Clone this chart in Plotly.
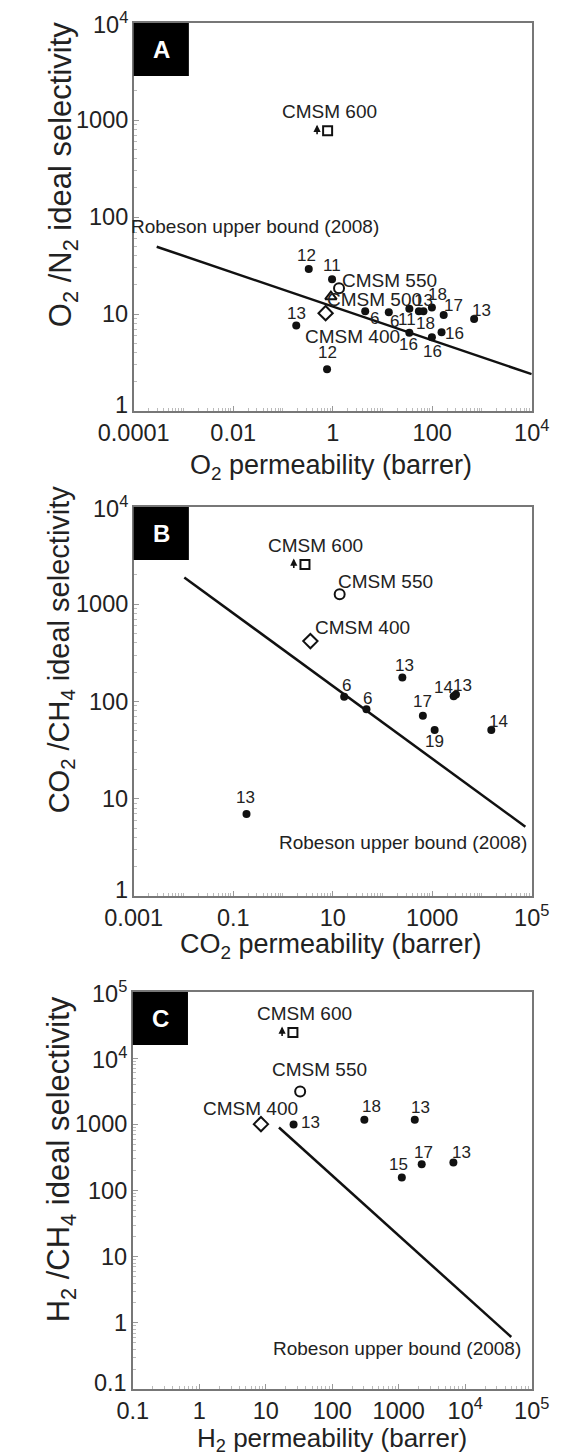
import math
import plotly.graph_objects as go

FONT = "Arial, Liberation Sans, sans-serif"

# ---------------- Panel A : O2/N2 ----------------
a_dot_x = [0.33, 0.97, 0.185, 0.77, 4.5, 13.4, 34.7, 54, 66.7, 98.6, 170, 695, 34.7, 98.6, 154]
a_dot_y = [29.1, 22.8, 7.6, 2.69, 10.7, 10.4, 11.3, 10.7, 10.7, 11.7, 9.77, 8.88, 6.4, 5.75, 6.5]
a_dot_ref = ["12", "11", "13", "12", "6", "6", "11", "13", "18", "18", "17", "13", "16", "16", "16"]
a_cmsm_name = ["CMSM 600", "CMSM 550", "CMSM 500", "CMSM 400"]
a_cmsm_x = [0.79, 1.34, 0.92, 0.72]
a_cmsm_y = [776, 18.4, 15.1, 10.2]
a_arrow_x = 0.485
a_rob_x = [2.9e-4, 1e4]
a_rob_y = [49.4, 2.4]

# ---------------- Panel B : CO2/CH4 ----------------
b_dot_x = [251, 17, 47.7, 649, 1120, 2700, 3000, 15400, 0.185]
b_dot_y = [177, 112, 83, 71.3, 50.8, 113, 118, 50.8, 6.96]
b_dot_ref = ["13", "6", "6", "17", "19", "14", "13", "14", "13"]
b_cmsm_name = ["CMSM 600", "CMSM 550", "CMSM 400"]
b_cmsm_x = [2.77, 13.8, 3.56]
b_cmsm_y = [2565, 1270, 418]
b_arrow_x = 1.65
b_rob_x = [0.0104, 74600]
b_rob_y = [1888, 5.15]

# ---------------- Panel C : H2/CH4 ----------------
c_dot_x = [26.2, 304, 1742, 1112, 2215, 6637]
c_dot_y = [990, 1170, 1170, 157, 250, 265]
c_dot_ref = ["13", "18", "13", "15", "17", "13"]
c_cmsm_name = ["CMSM 600", "CMSM 550", "CMSM 400"]
c_cmsm_x = [25.6, 32.9, 8.47]
c_cmsm_y = [24400, 3127, 1007]
c_arrow_x = 17.6
c_rob_x = [15.8, 49200]
c_rob_y = [895, 0.61]

# tick labels
a_xtickvals = [1e-4, 1e-2, 1, 100, 1e4]
a_xticktext = ["0.0001", "0.01", "1", "100", "10<sup>4</sup>"]
a_ytickvals = [1, 10, 100, 1000, 1e4]
a_yticktext = ["1", "10", "100", "1000", "10<sup>4</sup>"]
b_xtickvals = [1e-3, 0.1, 10, 1000, 1e5]
b_xticktext = ["0.001", "0.1", "10", "1000", "10<sup>5</sup>"]
b_ytickvals = [1, 10, 100, 1000, 1e4]
b_yticktext = ["1", "10", "100", "1000", "10<sup>4</sup>"]
c_xtickvals = [0.1, 1, 10, 100, 1000, 1e4, 1e5]
c_xticktext = ["0.1", "1", "10", "100", "1000", "10<sup>4</sup>", "10<sup>5</sup>"]
c_ytickvals = [0.1, 1, 10, 100, 1000, 1e4, 1e5]
c_yticktext = ["0.1", "1", "10", "100", "1000", "10<sup>4</sup>", "10<sup>5</sup>"]

# ---------- styles / label offsets (pixels) ----------
a_dot_off = [(-2, 13), (0, 14), (0, 12), (0, 17), (9, -7), (6, -9), (-2, -11), (5, 11),
             (2, -12), (6, 13), (10, 9), (7, 8), (-1, -12), (1, -14), (13, -1)]
a_cmsm_off = [(2, 19), (50, 8), (44, -3), (27, -23)]
b_dot_off = [(2, 12), (2, 11), (1, 11), (0, 14), (0, -11), (-10, 9), (7, 9), (7, 9), (-1, 17)]
b_cmsm_off = [(11, 19), (46, 13), (52, 14)]
c_dot_off = [(17, 2), (7, 13), (6, 12), (-3, 13), (2, 12), (8, 10)]
c_cmsm_off = [(12, 19), (19, 22), (-10, 16)]

cmsm_symbols = {"CMSM 600": "square", "CMSM 550": "circle",
                "CMSM 500": "triangle-up", "CMSM 400": "diamond"}
cmsm_sizes = {"CMSM 600": 9, "CMSM 550": 10, "CMSM 500": 10, "CMSM 400": 11}

TXT = "#222"
W, H = 566, 1456
panels = [
    dict(key="", letter="A", px=(108, 548), py=(23, 411), xr=[-4, 4], yr=[0, 4],
         dx=a_dot_x, dy=a_dot_y, dref=a_dot_ref, doff=a_dot_off,
         cn=a_cmsm_name, cx=a_cmsm_x, cy=a_cmsm_y, coff=a_cmsm_off, arrow=a_arrow_x,
         rx=a_rob_x, ry=a_rob_y, rob_pos=(0.027, 80.7),
         xtv=a_xtickvals, xtt=a_xticktext, ytv=a_ytickvals, ytt=a_yticktext,
         xtitle="O<sub>2</sub> permeability (barrer)", xtitle_y=467, xtitle_x=326,
         xtitle_size=27,
         ytitle="O<sub>2</sub> /N<sub>2</sub> ideal selectivity", ytitle_y=175, ytitle_x=30,
         ytitle_size=31),
    dict(key="2", letter="B", px=(108, 548), py=(507, 896), xr=[-3, 5], yr=[0, 4],
         dx=b_dot_x, dy=b_dot_y, dref=b_dot_ref, doff=b_dot_off,
         cn=b_cmsm_name, cx=b_cmsm_x, cy=b_cmsm_y, coff=b_cmsm_off, arrow=b_arrow_x,
         rx=b_rob_x, ry=b_rob_y, rob_pos=(262, 3.59),
         xtv=b_xtickvals, xtt=b_xticktext, ytv=b_ytickvals, ytt=b_yticktext,
         xtitle="CO<sub>2</sub> permeability (barrer)", xtitle_y=946, xtitle_x=326,
         xtitle_size=27,
         ytitle="CO<sub>2</sub> /CH<sub>4</sub> ideal selectivity", ytitle_y=649, ytitle_x=28,
         ytitle_size=29),
    dict(key="3", letter="C", px=(107, 548), py=(992, 1389), xr=[-1, 5], yr=[-1, 5],
         dx=c_dot_x, dy=c_dot_y, dref=c_dot_ref, doff=c_dot_off,
         cn=c_cmsm_name, cx=c_cmsm_x, cy=c_cmsm_y, coff=c_cmsm_off, arrow=c_arrow_x,
         rx=c_rob_x, ry=c_rob_y, rob_pos=(931, 0.406),
         xtv=c_xtickvals, xtt=c_xticktext, ytv=c_ytickvals, ytt=c_yticktext,
         xtitle="H<sub>2</sub> permeability (barrer)", xtitle_y=1439, xtitle_x=327,
         xtitle_size=26,
         ytitle="H<sub>2</sub> /CH<sub>4</sub> ideal selectivity", ytitle_y=1159, ytitle_x=28,
         ytitle_size=31),
]

L = math.log10
fig = go.Figure()
annotations = []
shapes = []
layout = {}

for p in panels:
    xa = "x" + p["key"]
    ya = "y" + p["key"]
    # Robeson line
    fig.add_trace(go.Scatter(x=p["rx"], y=p["ry"], mode="lines", xaxis=xa, yaxis=ya,
                             line=dict(color="#111", width=2.5), showlegend=False,
                             hoverinfo="skip"))
    # literature points
    fig.add_trace(go.Scatter(x=p["dx"], y=p["dy"], mode="markers", xaxis=xa, yaxis=ya,
                             marker=dict(color="#111", size=8, symbol="circle"),
                             showlegend=False))
    # CMSM points
    for n, x, y in zip(p["cn"], p["cx"], p["cy"]):
        fig.add_trace(go.Scatter(x=[x], y=[y], mode="markers", xaxis=xa, yaxis=ya,
                                 marker=dict(color="white", size=cmsm_sizes[n],
                                             symbol=cmsm_symbols[n],
                                             line=dict(color="#111", width=2)),
                                 showlegend=False))
    # labels for literature points
    for x, y, t, (ox, oy) in zip(p["dx"], p["dy"], p["dref"], p["doff"]):
        annotations.append(dict(x=L(x), y=L(y), xref=xa, yref=ya, text=t, showarrow=False,
                                xshift=ox, yshift=oy, xanchor="center", yanchor="middle",
                                font=dict(family=FONT, size=17, color=TXT)))
    for n, x, y, (ox, oy) in zip(p["cn"], p["cx"], p["cy"], p["coff"]):
        annotations.append(dict(x=L(x), y=L(y), xref=xa, yref=ya, text=n, showarrow=False,
                                xshift=ox, yshift=oy, xanchor="center", yanchor="middle",
                                font=dict(family=FONT, size=19, color=TXT)))
    # arrow next to CMSM 600
    annotations.append(dict(x=L(p["arrow"]), y=L(p["cy"][0]), xref=xa, yref=ya, text="",
                            showarrow=True, ax=0, ay=11, yshift=6, arrowhead=2,
                            arrowsize=0.9, arrowwidth=1.6, arrowcolor="#111", standoff=0))
    # Robeson label
    annotations.append(dict(x=L(p["rob_pos"][0]), y=L(p["rob_pos"][1]), xref=xa, yref=ya,
                            text="Robeson upper bound (2008)", showarrow=False,
                            xanchor="center", yanchor="middle",
                            font=dict(family=FONT, size=19, color=TXT)))
    # y tick labels (drawn as text so the lowest one can sit slightly higher)
    for i, (v, t) in enumerate(zip(p["ytv"], p["ytt"])):
        annotations.append(dict(x=0, y=L(v), xref=xa + " domain", yref=ya, text=t,
                                showarrow=False, xanchor="right", yanchor="middle",
                                xshift=-4, yshift=6 if i == 0 else 0,
                                font=dict(family=FONT, size=23.5, color=TXT)))
    # panel letter box
    pw = p["px"][1] - p["px"][0]
    ph = p["py"][1] - p["py"][0]
    shapes.append(dict(type="rect", xref=xa + " domain", yref=ya + " domain",
                       x0=0, x1=61 / pw, y0=1 - 53 / ph, y1=1,
                       fillcolor="black", line=dict(width=0)))
    annotations.append(dict(x=30.5 / pw, y=1 - 26.5 / ph, xref=xa + " domain",
                            yref=ya + " domain", text="<b>" + p["letter"] + "</b>",
                            showarrow=False, xanchor="center", yanchor="middle",
                            font=dict(family=FONT, size=24, color="white")))
    # axis titles
    annotations.append(dict(x=p["xtitle_x"] / W, y=1 - p["xtitle_y"] / H, xref="paper",
                            yref="paper", text=p["xtitle"], showarrow=False,
                            xanchor="center", yanchor="middle",
                            font=dict(family=FONT, size=p["xtitle_size"], color=TXT)))
    annotations.append(dict(x=p["ytitle_x"] / W, y=1 - p["ytitle_y"] / H, xref="paper",
                            yref="paper", text=p["ytitle"], showarrow=False,
                            textangle=-90, xanchor="center", yanchor="middle",
                            font=dict(family=FONT, size=p["ytitle_size"], color=TXT)))

    axis_common = dict(type="log", showgrid=False, zeroline=False, showline=True,
                       linecolor="#777", linewidth=2, mirror=True, ticks="inside",
                       ticklen=5, tickcolor="#999", tickmode="array",
                       minor=dict(ticks="inside", ticklen=3, tickcolor="#bbb", dtick="D1"))
    layout["xaxis" + p["key"]] = dict(axis_common, range=p["xr"], tickvals=p["xtv"],
                                      ticktext=p["xtt"], anchor=ya,
                                      tickfont=dict(family=FONT, size=23.5, color=TXT),
                                      domain=[p["px"][0] / W, p["px"][1] / W])
    layout["yaxis" + p["key"]] = dict(axis_common, range=p["yr"], tickvals=p["ytv"],
                                      showticklabels=False, anchor=xa,
                                      domain=[1 - p["py"][1] / H, 1 - p["py"][0] / H])

fig.update_layout(width=W, height=H, margin=dict(l=0, r=0, t=0, b=0),
                  paper_bgcolor="white", plot_bgcolor="white", showlegend=False,
                  annotations=annotations, shapes=shapes, **layout)

fig.write_html("out.html")
